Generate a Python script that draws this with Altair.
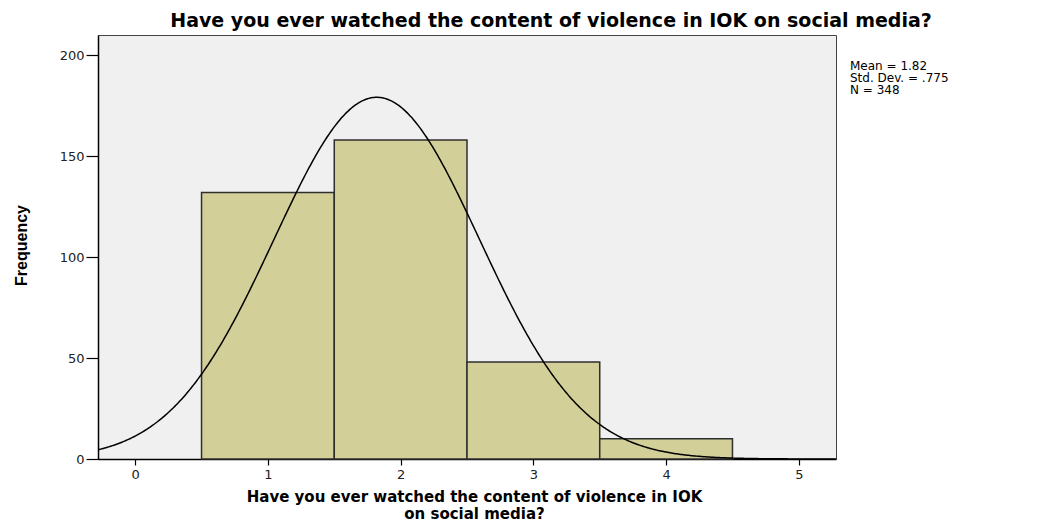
import altair as alt
import pandas as pd

# ---- data ----
categories = [1, 2, 3, 4]
counts = [132, 158, 48, 10]
bin_width = 1
mean_val = 1.82
sd_val = 0.775
n_val = 348
x_ticks = [0, 1, 2, 3, 4, 5]
y_ticks = [0, 50, 100, 150, 200]
stats_lines = ["Mean = 1.82", "Std. Dev. = .775", "N = 348"]
title_text = "Have you ever watched the content of violence in IOK on social media?"
x_title = ["Have you ever watched the content of violence in IOK", "on social media?"]
y_title = "Frequency"

bars_df = pd.DataFrame({"category": categories, "count": counts})
bars_df["start"] = bars_df["category"] - bin_width / 2
bars_df["end"] = bars_df["category"] + bin_width / 2
bars_df["base"] = 0

x_scale = alt.Scale(domain=[-0.28, 5.28], nice=False, zero=False)
y_scale = alt.Scale(domain=[0, 210], nice=False)

x_axis = alt.Axis(
    values=x_ticks, title=x_title, grid=False, format="d",
    tickSize=6, labelPadding=3, labelFont="DejaVu Sans", labelFontSize=13,
    titleFont="DejaVu Sans", titleFontSize=15, titleFontWeight="bold",
    titleLineHeight=17, titleBaseline="alphabetic", titleAlign="center",
    titleX=376, titleY=42, titleColor="black",
)
y_axis = alt.Axis(
    values=y_ticks, title=y_title, grid=False,
    tickSize=12, labelPadding=2, labelFont="DejaVu Sans", labelFontSize=13,
    titleFont="Liberation Sans",
    titleFontSize=16, titleFontWeight="bold", titleAngle=270,
    titleBaseline="middle", titleAlign="center", titleX=-77, titleY=210,
    titleColor="black",
)

bars = alt.Chart(bars_df).mark_rect(
    fill="#d3cf98", stroke="#2e2e2e", strokeWidth=1.5
).encode(
    x=alt.X("start:Q", scale=x_scale, axis=x_axis),
    x2="end:Q",
    y=alt.Y("count:Q", scale=y_scale, axis=y_axis),
    y2="base:Q",
)

expr = (
    f"{n_val * bin_width} * exp(-0.5 * pow((datum.x - {mean_val}) / {sd_val}, 2))"
    f" / ({sd_val} * sqrt(2 * PI))"
)
curve = alt.Chart(alt.sequence(-0.28, 5.285, 0.01, as_="x")).transform_calculate(
    freq=expr
).mark_line(color="black", strokeWidth=1.5, clip=True).encode(
    x=alt.X("x:Q", scale=x_scale, axis=x_axis),
    y=alt.Y("freq:Q", scale=y_scale, axis=y_axis),
)

one = pd.DataFrame({"k": [0]})

stats = alt.Chart(one).mark_text(
    align="left", baseline="alphabetic", font="DejaVu Sans", fontSize=12,
    lineHeight=12, color="black", text=stats_lines,
).encode(x=alt.value(752), y=alt.value(35))

title = alt.Chart(one).mark_text(
    align="center", baseline="alphabetic", font="DejaVu Sans", fontSize=19,
    fontWeight="bold", color="black", text=title_text,
).encode(x=alt.value(453), y=alt.value(-8))

chart = alt.layer(bars, curve, stats, title).properties(
    width=738,
    height=424,
    padding={"left": 90, "top": 27, "right": 195, "bottom": 64},
    autosize="none",
).configure_view(
    fill="#f0f0f0", stroke="#444444", strokeWidth=1
).configure_axis(
    domainColor="black", domainWidth=1.5, tickColor="black", tickWidth=1.2,
    labelColor="#222222",
)

chart.save("out.html", embed_options={"renderer": "svg", "actions": False})
